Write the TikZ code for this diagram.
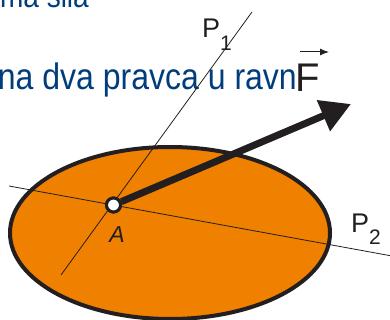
\documentclass[tikz,border=0pt]{standalone}
\usepackage{fontspec}
\setmainfont{Liberation Sans}
\usepackage{xcolor}
\usetikzlibrary{arrows.meta,positioning,calc}
\definecolor{plateorange}{RGB}{240,128,0}
\definecolor{textblue}{RGB}{0,61,122}
\definecolor{inkblack}{RGB}{35,31,32}
\newcommand{\Psub}[1]{P\raisebox{-0.45em}{\fontsize{21}{21}\selectfont #1}}

\begin{document}
\begin{tikzpicture}[
    x=1pt,
    y=-1pt,
    >=Latex,
    axisline/.style={draw=inkblack, line width=0.8pt},
    plate/.style={draw=inkblack, fill=plateorange, line width=4pt},
    pointnode/.style={circle, draw=inkblack, fill=white, line width=3pt, minimum size=14pt, inner sep=0pt},
    forcearrow/.style={draw=inkblack, line width=7pt, -{Triangle[length=30pt,width=32pt]}},
    slidetext/.style={text=textblue, font=\fontsize{32}{32}\selectfont, inner sep=0pt},
    lbl/.style={text=inkblack, inner sep=0pt, font=\fontsize{27}{27}\selectfont}
]
\useasboundingbox (0,0) rectangle (390,320);
\clip (0,0) rectangle (390,320);
\node[slidetext, font=\fontsize{28}{28}\selectfont, anchor=base east] (topline) at (89,8) {\scalebox{1}[1.15]{ama sila}};
\node[slidetext, anchor=base east] (midline) at (297,90) {\scalebox{1}[1.15]{na dva pravca u ravn}};
\draw[plate] (170,233) ellipse [x radius=160pt, y radius=86pt];
\coordinate (p1top) at (252,12);
\coordinate (p1bot) at (61,275);
\coordinate (p2left) at (9,186);
\coordinate (p2right) at (392,256);
\draw[axisline] (p1bot) -- (p1top);
\draw[axisline] (p2left) -- (p2right);
\node[pointnode] (A) at (113.5,205) {};
\coordinate (ftip) at (351,104);
\draw[forcearrow] (A) -- (ftip);
\node[pointnode] at (A) {};
\node[lbl, font=\fontsize{23}{23}\itshape] (lblA) at (117,235) {A};
\node[lbl, anchor=base west] (lblPone) at (202,38) {\Psub{1}};
\node[lbl, anchor=base west] (lblPtwo) at (351,232) {\Psub{2}};
\node[lbl, font=\fontsize{40}{40}\selectfont, anchor=base west] (lblF) at (295,92) {F};
\coordinate (vecstart) at (300,52);
\coordinate (vecend) at (329,52);
\draw[-{Latex[length=9pt,width=7pt]}, draw=inkblack, fill=inkblack, line width=1pt] (vecstart) -- (vecend);
\end{tikzpicture}
\end{document}
